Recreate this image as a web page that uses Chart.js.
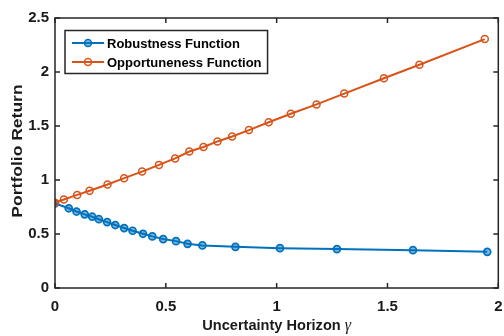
<!DOCTYPE html>
<html>
<head>
<meta charset="utf-8">
<script src="https://cdn.jsdelivr.net/npm/chart.js@4.4.0/dist/chart.umd.min.js"></script>
<style>
  body { margin: 0; background: #fff; }
  canvas { display: block; }
</style>
</head>
<body>
<canvas id="myChart" width="504" height="336"></canvas>
<script>
// data
const robustGamma = [0, 0.062, 0.097, 0.134, 0.168, 0.198, 0.235, 0.272, 0.312, 0.35, 0.397, 0.439, 0.488, 0.546, 0.598, 0.665, 0.814, 1.015, 1.272, 1.615, 1.95];
const robustReturn = [0.784, 0.738, 0.708, 0.682, 0.66, 0.637, 0.61, 0.583, 0.555, 0.53, 0.502, 0.478, 0.453, 0.434, 0.409, 0.394, 0.381, 0.369, 0.36, 0.35, 0.335];

const oppGamma = [0, 0.04, 0.1, 0.156, 0.237, 0.312, 0.393, 0.469, 0.542, 0.606, 0.67, 0.733, 0.799, 0.875, 0.964, 1.064, 1.18, 1.305, 1.484, 1.644, 1.939];
const oppReturn = [0.79, 0.819, 0.862, 0.9, 0.958, 1.017, 1.078, 1.14, 1.2, 1.264, 1.306, 1.357, 1.403, 1.462, 1.535, 1.613, 1.7, 1.8, 1.942, 2.067, 2.305];

const xTicks = [0, 0.5, 1, 1.5, 2];
const yTicks = [0, 0.5, 1, 1.5, 2, 2.5];

const seriesNames = ['Robustness Function', 'Opportuneness Function'];
const xTitle = 'Uncertainty Horizon ';
const xSymbol = 'γ';
const yTitle = 'Portfolio Return';

const blue = '#0072BD';
const orange = '#D95319';
const ink = '#1a1a1a';
const fontFamily = '"Liberation Sans", Arial, sans-serif';

const toPoints = (xs, ys) => xs.map((x, i) => ({ x: x, y: ys[i] }));

// box, inward ticks, legend and axis titles
const matlabFrame = {
    id: 'matlabFrame',
    afterDraw(chart) {
        const ctx = chart.ctx;
        const a = chart.chartArea;
        const xs = chart.scales.x;
        const ys = chart.scales.y;

        ctx.save();
        ctx.strokeStyle = '#262626';
        ctx.lineWidth = 1.5;
        ctx.strokeRect(a.left, a.top, a.right - a.left, a.bottom - a.top);

        ctx.beginPath();
        xTicks.forEach(v => {
            const px = xs.getPixelForValue(v);
            ctx.moveTo(px, a.bottom); ctx.lineTo(px, a.bottom - 5);
            ctx.moveTo(px, a.top); ctx.lineTo(px, a.top + 5);
        });
        yTicks.forEach(v => {
            const py = ys.getPixelForValue(v);
            ctx.moveTo(a.left, py); ctx.lineTo(a.left + 5, py);
            ctx.moveTo(a.right, py); ctx.lineTo(a.right - 5, py);
        });
        ctx.stroke();

        // legend
        const sets = chart.data.datasets;
        ctx.font = 'bold 13px ' + fontFamily;
        let textW = 0;
        sets.forEach(d => { textW = Math.max(textW, ctx.measureText(d.label).width); });
        const lx = a.left + 10;
        const ly = a.top + 12.5;
        const lw = 42 + textW + 6;
        const lh = 43;
        ctx.fillStyle = '#fff';
        ctx.fillRect(lx, ly, lw, lh);
        ctx.strokeStyle = '#262626';
        ctx.lineWidth = 1.5;
        ctx.strokeRect(lx, ly, lw, lh);
        sets.forEach((d, i) => {
            const cy = ly + 12.5 + i * 19;
            ctx.strokeStyle = d.borderColor;
            ctx.lineWidth = 2;
            ctx.beginPath();
            ctx.moveTo(lx + 7, cy); ctx.lineTo(lx + 39, cy);
            ctx.stroke();
            ctx.beginPath();
            ctx.arc(lx + 23, cy, 3.5, 0, Math.PI * 2);
            ctx.fillStyle = d.pointBackgroundColor;
            ctx.fill();
            ctx.lineWidth = 1.5;
            ctx.stroke();
            ctx.fillStyle = '#000';
            ctx.textBaseline = 'middle';
            ctx.textAlign = 'left';
            ctx.fillText(d.label, lx + 42, cy + 1);
        });

        // x title with italic gamma
        ctx.fillStyle = ink;
        ctx.textBaseline = 'alphabetic';
        ctx.textAlign = 'left';
        ctx.font = 'bold 15.5px ' + fontFamily;
        const w1 = ctx.measureText(xTitle).width;
        ctx.font = 'italic 17px "Liberation Serif", serif';
        const w2 = ctx.measureText(xSymbol).width;
        ctx.save();
        ctx.translate((a.left + a.right) / 2, 330);
        ctx.scale(0.94, 1);
        ctx.font = 'bold 15.5px ' + fontFamily;
        ctx.fillText(xTitle, -(w1 + w2) / 2, 0);
        ctx.font = 'italic 17px "Liberation Serif", serif';
        ctx.fillText(xSymbol, -(w1 + w2) / 2 + w1, 0);
        ctx.restore();

        // y title
        ctx.save();
        ctx.translate(18, (a.top + a.bottom) / 2 - 2);
        ctx.rotate(-Math.PI / 2);
        ctx.scale(1.03, 0.85);
        ctx.font = 'bold 17px ' + fontFamily;
        ctx.textAlign = 'center';
        ctx.textBaseline = 'middle';
        ctx.fillText(yTitle, 0, 0);
        ctx.restore();

        ctx.restore();
    }
};

const config = {
    type: 'line',
    data: {
        datasets: [
            {
                label: seriesNames[0],
                data: toPoints(robustGamma, robustReturn),
                borderColor: blue,
                pointBorderColor: blue,
                pointBackgroundColor: 'rgba(0, 114, 189, 0.5)',
                borderWidth: 2,
                pointRadius: 3.5,
                pointBorderWidth: 1.7,
                tension: 0,
                order: 1,
            },
            {
                label: seriesNames[1],
                data: toPoints(oppGamma, oppReturn),
                borderColor: orange,
                pointBorderColor: orange,
                pointBackgroundColor: 'rgba(255, 255, 255, 0)',
                borderWidth: 2,
                pointRadius: 3.5,
                pointBorderWidth: 1.5,
                tension: 0,
                order: 0,
            },
        ],
    },
    options: {
        responsive: false,
        animation: false,
        devicePixelRatio: 1,
        layout: { padding: { top: 18, right: 2, left: 0, bottom: 0 } },
        plugins: {
            legend: { display: false },
            tooltip: { enabled: false },
        },
        scales: {
            x: {
                type: 'linear',
                min: 0,
                max: 2,
                afterBuildTicks(s) { s.ticks = xTicks.map(v => ({ value: v })); },
                ticks: {
                    color: ink,
                    font: { family: fontFamily, size: 15, weight: 'bold' },
                    padding: 10,
                    maxRotation: 0,
                    callback: v => String(v),
                },
                grid: { display: false, drawTicks: false },
                border: { display: false },
                afterFit(s) { s.height = 48; s.paddingLeft = 0; s.paddingRight = 0; },
            },
            y: {
                min: 0,
                max: 2.5,
                afterBuildTicks(s) { s.ticks = yTicks.map(v => ({ value: v })); },
                ticks: {
                    color: ink,
                    font: { family: fontFamily, size: 15, weight: 'bold' },
                    padding: 6,
                    callback: v => String(v),
                },
                grid: { display: false, drawTicks: false },
                border: { display: false },
                afterFit(s) { s.width = 55; s.paddingTop = 0; s.paddingBottom = 0; },
            },
        },
    },
    plugins: [matlabFrame],
};

const myChart = new Chart(document.getElementById('myChart'), config);
</script>
</body>
</html>
